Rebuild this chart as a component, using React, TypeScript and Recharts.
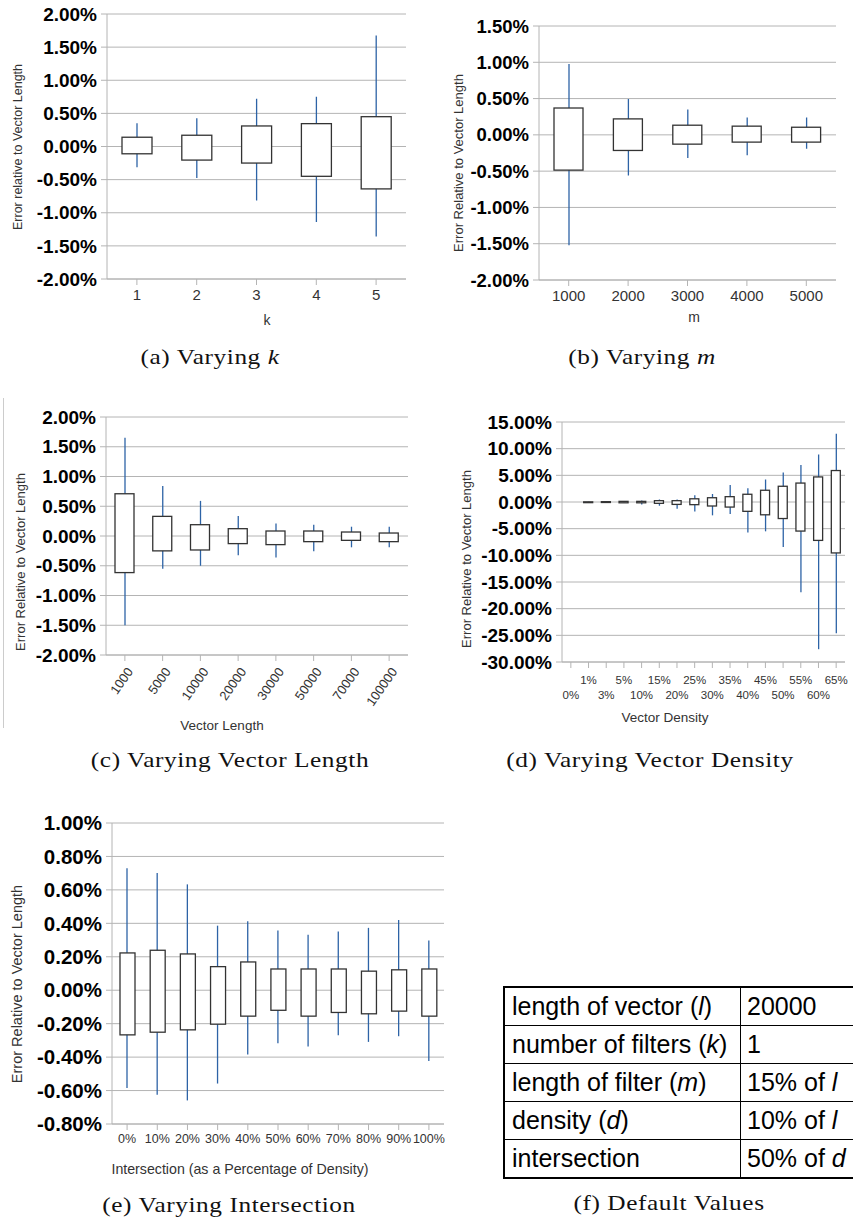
import React from "react";
import { ComposedChart, Bar, XAxis, YAxis, CartesianGrid, Label } from "recharts";

// (a) varying k
const kCategories = ["1", "2", "3", "4", "5"];
const kBoxLow = [-0.11, -0.205, -0.25, -0.45, -0.64];
const kBoxHigh = [0.14, 0.17, 0.31, 0.345, 0.45];
const kWhiskerLow = [-0.315, -0.475, -0.815, -1.14, -1.36];
const kWhiskerHigh = [0.35, 0.425, 0.72, 0.75, 1.675];
const kTicks = [-2, -1.5, -1, -0.5, 0, 0.5, 1, 1.5, 2];

// (b) varying m
const mCategories = ["1000", "2000", "3000", "4000", "5000"];
const mBoxLow = [-0.486, -0.215, -0.128, -0.1, -0.1];
const mBoxHigh = [0.37, 0.22, 0.133, 0.12, 0.105];
const mWhiskerLow = [-1.52, -0.56, -0.32, -0.28, -0.19];
const mWhiskerHigh = [0.977, 0.495, 0.35, 0.24, 0.24];
const mTicks = [-2, -1.5, -1, -0.5, 0, 0.5, 1, 1.5];

// (c) varying vector length
const lenCategories = ["1000", "5000", "10000", "20000", "30000", "50000", "70000", "100000"];
const lenBoxLow = [-0.615, -0.25, -0.235, -0.128, -0.145, -0.095, -0.073, -0.095];
const lenBoxHigh = [0.71, 0.33, 0.19, 0.123, 0.084, 0.084, 0.067, 0.05];
const lenWhiskerLow = [-1.5, -0.55, -0.5, -0.324, -0.36, -0.257, -0.19, -0.19];
const lenWhiskerHigh = [1.65, 0.84, 0.59, 0.335, 0.21, 0.19, 0.156, 0.156];
const lenTicks = [-2, -1.5, -1, -0.5, 0, 0.5, 1, 1.5, 2];

// (d) varying vector density
const denCategories = ["0%", "1%", "3%", "5%", "10%", "15%", "20%", "25%", "30%", "35%", "40%", "45%", "50%", "55%", "60%", "65%"];
const denBoxLow = [0, -0.03, -0.06, -0.15, -0.15, -0.25, -0.45, -0.5, -0.75, -0.95, -1.75, -2.4, -3.1, -5.45, -7.2, -9.55];
const denBoxHigh = [0, 0.03, 0.06, 0.12, 0.12, 0.25, 0.25, 0.6, 0.8, 1.0, 1.45, 2.2, 2.95, 3.55, 4.7, 5.9];
const denWhiskerLow = [0, -0.06, -0.2, -0.2, -0.45, -0.7, -1.25, -1.8, -2.5, -2.25, -5.7, -5.5, -8.45, -16.9, -27.6, -24.6];
const denWhiskerHigh = [0, 0.06, 0.08, 0.15, 0.3, 0.45, 0.45, 1.25, 1.5, 3.2, 2.6, 4.2, 5.55, 6.95, 8.9, 12.8];
const denTicks = [-30, -25, -20, -15, -10, -5, 0, 5, 10, 15];

// (e) varying intersection
const intCategories = ["0%", "10%", "20%", "30%", "40%", "50%", "60%", "70%", "80%", "90%", "100%"];
const intBoxLow = [-0.267, -0.251, -0.237, -0.203, -0.155, -0.12, -0.155, -0.133, -0.141, -0.125, -0.155];
const intBoxHigh = [0.223, 0.239, 0.217, 0.141, 0.169, 0.127, 0.127, 0.127, 0.114, 0.122, 0.127];
const intWhiskerLow = [-0.584, -0.625, -0.659, -0.558, -0.384, -0.317, -0.337, -0.269, -0.309, -0.275, -0.424];
const intWhiskerHigh = [0.729, 0.701, 0.633, 0.386, 0.412, 0.357, 0.331, 0.351, 0.373, 0.42, 0.297];
const intTicks = [-0.8, -0.6, -0.4, -0.2, 0, 0.2, 0.4, 0.6, 0.8, 1.0];

// (f) default values
const defaultParams = ["length of vector (", "number of filters (", "length of filter (", "density (", "intersection"];
const defaultSymbols = ["l", "k", "m", "d", ""];
const defaultValues = ["20000", "1", "15% of ", "10% of ", "50% of "];
const defaultValueSymbols = ["", "", "l", "l", "d"];

const GRID = "#b4b4b4";
const WHISKER = "#2d63a6";
const BOX = "#333";
const SANS = "'Liberation Sans', Arial, sans-serif";

const rows = (cats: string[], bl: number[], bh: number[], wl: number[], wh: number[]) =>
  cats.map((name, i) => ({ name, box: [bl[i], bh[i]], whisker: [wl[i], wh[i]] }));

const WhiskerLine = (props: any) => {
  const { x, y, width, height } = props;
  if (!height) return null;
  const cx = x + width / 2;
  return <line x1={cx} x2={cx} y1={y} y2={y + height} stroke={WHISKER} strokeWidth={1.3} />;
};

const BoxRect = (props: any) => {
  const { x, y, width, height } = props;
  if (height == null || width == null) return null;
  if (Math.abs(height) < 0.01) return null;
  const top = Math.min(y, y + height);
  const h = Math.max(Math.abs(height), 0.8);
  return <rect x={x} y={top} width={width} height={h} fill="#fff" stroke={BOX} strokeWidth={1.3} />;
};

const RotatedTick = (props: any) => {
  const { x, y, payload } = props;
  const tx = x + 5;
  const ty = y + 4;
  return (
    <text x={tx} y={ty} transform={`rotate(-55, ${tx}, ${ty})`} textAnchor="end" fontSize={13} fill="#333" dominantBaseline="central">
      {payload.value}
    </text>
  );
};

const TwoRowTick = (props: any) => {
  const { x, y, payload, index } = props;
  const i = index ?? payload.index;
  const dy = i % 2 === 1 ? 8 : 23;
  return (
    <text x={x} y={y + dy} textAnchor="middle" fontSize={11.5} fill="#333" dominantBaseline="central">
      {payload.value}
    </text>
  );
};

type ChartProps = {
  left: number;
  top: number;
  width: number;
  height: number;
  data: any[];
  ticks: number[];
  plotTop: number;
  plotRight: number;
  yAxisWidth: number;
  xAxisHeight: number;
  boxSize: number;
  yTickSize: number;
  yTitle: string;
  yTitlePos: [number, number];
  yTitleSize: number;
  xTitle: string;
  xTitlePos: [number, number];
  xTitleSize: number;
  xTick?: any;
  xTickSize?: number;
};

function BoxChart(p: ChartProps) {
  return (
    <div style={{ position: "absolute", left: p.left, top: p.top, fontFamily: SANS }}>
      <ComposedChart
        width={p.width}
        height={p.height}
        data={p.data}
        margin={{ top: p.plotTop, right: p.plotRight, left: 0, bottom: 0 }}
      >
        <CartesianGrid horizontal vertical={false} stroke={GRID} strokeWidth={1} />
        <XAxis
          dataKey="name"
          type="category"
          interval={0}
          height={p.xAxisHeight}
          axisLine={{ stroke: GRID }}
          tickLine={{ stroke: GRID }}
          tickSize={6}
          tickMargin={4}
          tick={p.xTick ?? { fontSize: p.xTickSize ?? 14, fill: "#333" }}
        >
          <Label
            content={() => (
              <text x={p.xTitlePos[0]} y={p.xTitlePos[1]} textAnchor="middle" dominantBaseline="central" fontSize={p.xTitleSize} fill="#333">
                {p.xTitle}
              </text>
            )}
          />
        </XAxis>
        <XAxis xAxisId="w" dataKey="name" type="category" hide />
        <YAxis
          type="number"
          domain={[p.ticks[0], p.ticks[p.ticks.length - 1]]}
          ticks={p.ticks}
          interval={0}
          allowDataOverflow
          width={p.yAxisWidth}
          axisLine={{ stroke: GRID }}
          tickLine={{ stroke: GRID }}
          tickSize={6}
          tickMargin={4}
          tickFormatter={(v: number) => v.toFixed(2) + "%"}
          tick={{ fontSize: p.yTickSize, fontWeight: "bold", fill: "#000" }}
        >
          <Label
            content={() => (
              <text
                x={p.yTitlePos[0]}
                y={p.yTitlePos[1]}
                transform={`rotate(-90, ${p.yTitlePos[0]}, ${p.yTitlePos[1]})`}
                textAnchor="middle"
                dominantBaseline="central"
                fontSize={p.yTitleSize}
                fill="#333"
              >
                {p.yTitle}
              </text>
            )}
          />
        </YAxis>
        <YAxis yAxisId="r" orientation="right" width={0} domain={[0, 1]} tick={false} tickLine={false} axisLine={{ stroke: GRID }} />
        <Bar xAxisId="w" dataKey="whisker" barSize={4} shape={(s: any) => <WhiskerLine {...s} />} isAnimationActive={false} />
        <Bar dataKey="box" barSize={p.boxSize} shape={(s: any) => <BoxRect {...s} />} isAnimationActive={false} />
      </ComposedChart>
    </div>
  );
}

const Caption = ({ x, y, children }: { x: number; y: number; children: React.ReactNode }) => (
  <div
    style={{
      position: "absolute",
      left: x,
      top: y,
      transform: "translate(-50%, -50%) scaleX(1.15)",
      whiteSpace: "nowrap",
      fontFamily: "'Liberation Serif', 'Times New Roman', serif",
      fontSize: 22,
      letterSpacing: 0.5,
      color: "#111",
    }}
  >
    {children}
  </div>
);

export default function App() {
  const cell: React.CSSProperties = {
    borderTop: "1px solid #000",
    padding: "0 0 0 7px",
    height: 37,
    lineHeight: "37px",
    whiteSpace: "nowrap",
  };
  return (
    <div style={{ position: "absolute", left: 0, top: 0, width: 853, height: 1217, overflow: "hidden", background: "#fff" }}>
      <BoxChart
        left={0}
        top={0}
        width={420}
        height={340}
        data={rows(kCategories, kBoxLow, kBoxHigh, kWhiskerLow, kWhiskerHigh)}
        ticks={kTicks}
        plotTop={14}
        plotRight={14}
        yAxisWidth={107}
        xAxisHeight={61}
        boxSize={30}
        yTickSize={19}
        yTitle="Error relative to Vector Length"
        yTitlePos={[18, 147]}
        yTitleSize={12.5}
        xTitle="k"
        xTitlePos={[267, 320]}
        xTitleSize={14}
        xTickSize={15}
      />
      <BoxChart
        left={430}
        top={0}
        width={423}
        height={340}
        data={rows(mCategories, mBoxLow, mBoxHigh, mWhiskerLow, mWhiskerHigh)}
        ticks={mTicks}
        plotTop={26}
        plotRight={17}
        yAxisWidth={109}
        xAxisHeight={60}
        boxSize={29}
        yTickSize={18.5}
        yTitle="Error Relative to Vector Length"
        yTitlePos={[28, 163]}
        yTitleSize={13}
        xTitle="m"
        xTitlePos={[264, 317]}
        xTitleSize={14}
        xTickSize={15}
      />
      <div style={{ position: "absolute", left: 3, top: 398, width: 1, height: 330, background: "#ccc" }} />
      <BoxChart
        left={0}
        top={390}
        width={420}
        height={360}
        data={rows(lenCategories, lenBoxLow, lenBoxHigh, lenWhiskerLow, lenWhiskerHigh)}
        ticks={lenTicks}
        plotTop={27}
        plotRight={12}
        yAxisWidth={106}
        xAxisHeight={95}
        boxSize={19}
        yTickSize={19}
        yTitle="Error Relative to Vector Length"
        yTitlePos={[20, 172]}
        yTitleSize={13}
        xTitle="Vector Length"
        xTitlePos={[222, 335]}
        xTitleSize={13.5}
        xTick={<RotatedTick />}
      />
      <BoxChart
        left={430}
        top={390}
        width={423}
        height={360}
        data={rows(denCategories, denBoxLow, denBoxHigh, denWhiskerLow, denWhiskerHigh)}
        ticks={denTicks}
        plotTop={32}
        plotRight={8}
        yAxisWidth={132}
        xAxisHeight={88}
        boxSize={9}
        yTickSize={19}
        yTitle="Error Relative to Vector Length"
        yTitlePos={[36, 169]}
        yTitleSize={13}
        xTitle="Vector Density"
        xTitlePos={[235, 327]}
        xTitleSize={13.5}
        xTick={<TwoRowTick />}
      />
      <BoxChart
        left={0}
        top={790}
        width={450}
        height={395}
        data={rows(intCategories, intBoxLow, intBoxHigh, intWhiskerLow, intWhiskerHigh)}
        ticks={intTicks}
        plotTop={33}
        plotRight={6}
        yAxisWidth={112}
        xAxisHeight={61}
        boxSize={15}
        yTickSize={20.5}
        yTitle="Error Relative to Vector Length"
        yTitlePos={[17, 194]}
        yTitleSize={14.5}
        xTitle="Intersection (as a Percentage of Density)"
        xTitlePos={[240, 379]}
        xTitleSize={14.2}
        xTickSize={12.5}
      />

      <table
        style={{
          position: "absolute",
          left: 503,
          top: 986,
          width: 352,
          borderCollapse: "collapse",
          border: "2px solid #000",
          fontFamily: SANS,
          fontSize: 25,
          color: "#000",
        }}
      >
        <tbody>
          {defaultParams.map((name, i) => (
            <tr key={name}>
              <td style={{ ...cell, width: 228, borderRight: "1px solid #000" }}>
                {name}
                {defaultSymbols[i] && (
                  <>
                    <i>{defaultSymbols[i]}</i>)
                  </>
                )}
              </td>
              <td style={{ ...cell, paddingLeft: 6 }}>
                {defaultValues[i]}
                {defaultValueSymbols[i] && <i>{defaultValueSymbols[i]}</i>}
              </td>
            </tr>
          ))}
        </tbody>
      </table>

      <Caption x={210} y={357}>
        (a) Varying <i>k</i>
      </Caption>
      <Caption x={642} y={357}>
        (b) Varying <i>m</i>
      </Caption>
      <Caption x={230} y={760}>
        (c) Varying Vector Length
      </Caption>
      <Caption x={650} y={760}>
        (d) Varying Vector Density
      </Caption>
      <Caption x={229} y={1205}>
        (e) Varying Intersection
      </Caption>
      <Caption x={669} y={1203}>
        (f) Default Values
      </Caption>
    </div>
  );
}
